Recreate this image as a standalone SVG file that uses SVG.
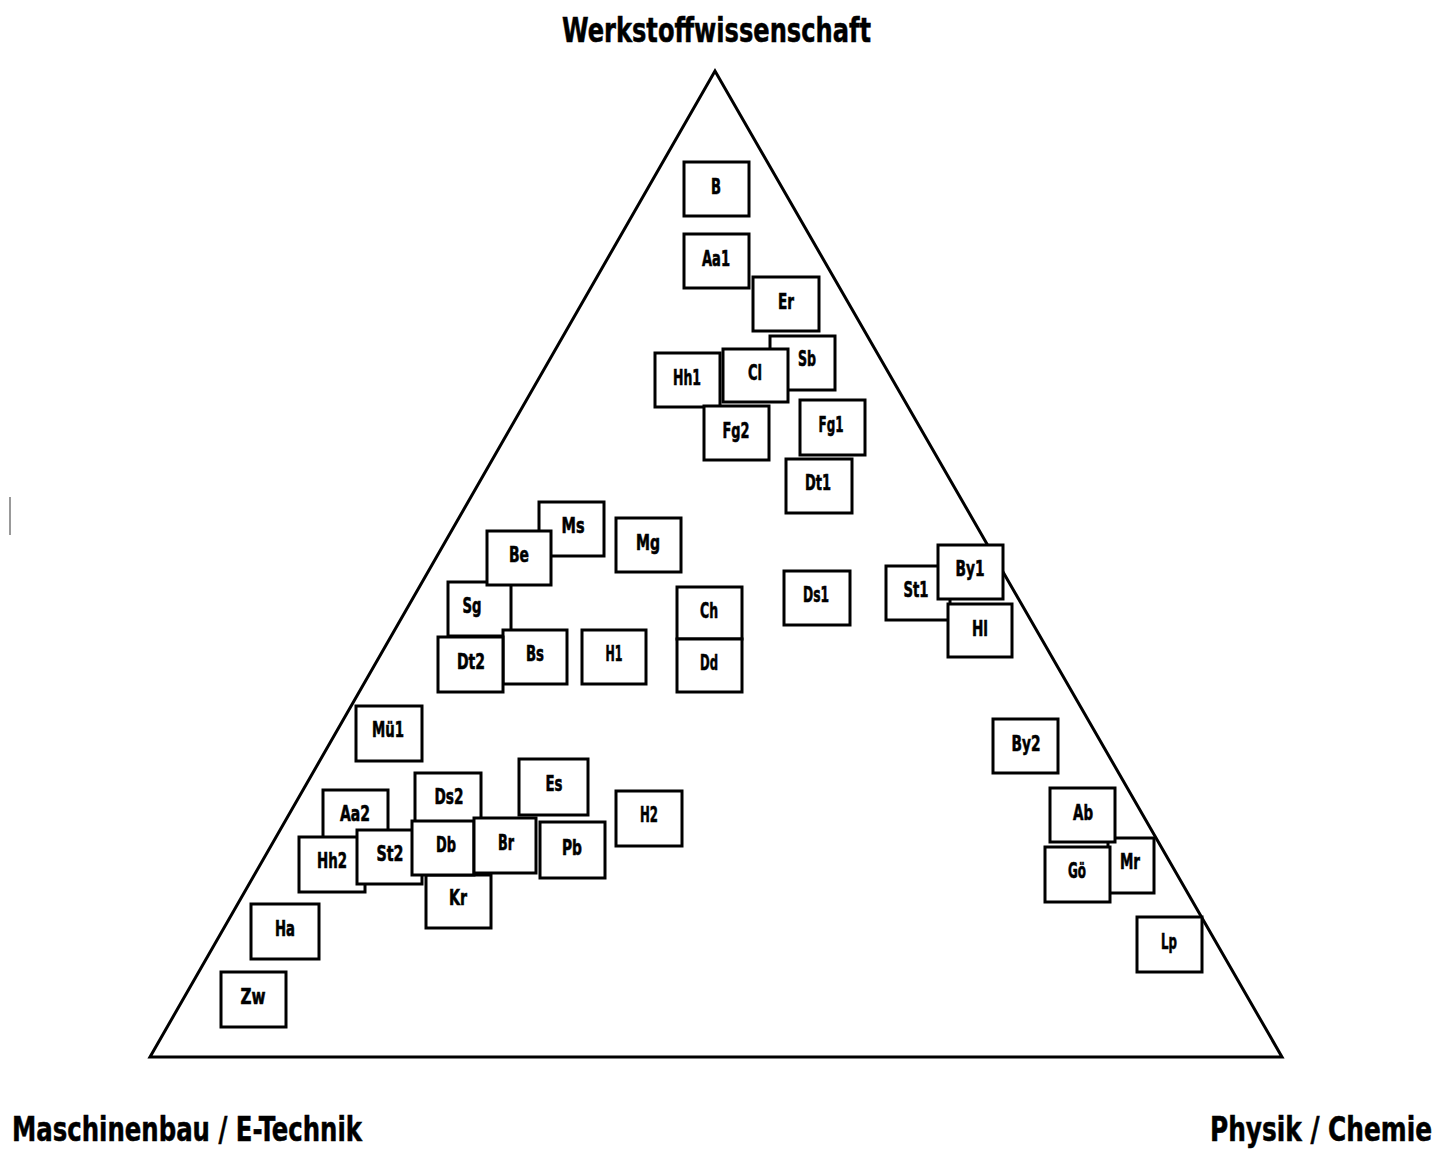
<svg xmlns="http://www.w3.org/2000/svg" width="1448" height="1152" viewBox="0 0 1448 1152">
<style>
.bx rect{fill:#fff;stroke:#000;stroke-width:3}
.bx text{font-family:"Liberation Sans Narrow","DejaVu Sans Condensed","Liberation Sans",sans-serif;font-weight:bold;font-size:22px;text-anchor:middle;fill:#000;stroke:#000;stroke-width:0.6}
.ttl{font-family:"Liberation Sans Narrow","DejaVu Sans Condensed","Liberation Sans",sans-serif;font-weight:bold;font-size:34px;fill:#000;stroke:#000;stroke-width:0.5}
</style>
<rect width="1448" height="1152" fill="#fff"/>
<line x1="10" y1="497" x2="10" y2="535" stroke="#555" stroke-width="1.2"/>
<g id="connectors">
<polygon points="715,71 150,1057 1282,1057" fill="none" stroke="#000" stroke-width="3" stroke-linejoin="miter"/>
</g>
<text class="ttl" x="562" y="42" textLength="309" lengthAdjust="spacingAndGlyphs">Werkstoffwissenschaft</text>
<text class="ttl" x="12" y="1141" textLength="350" lengthAdjust="spacingAndGlyphs">Maschinenbau / E-Technik</text>
<text class="ttl" x="1432" y="1141" text-anchor="end" textLength="222" lengthAdjust="spacingAndGlyphs">Physik / Chemie</text>
<g class="bx">
<g id="n-B"><rect x="684" y="162" width="65" height="54"/><text x="716" y="194" textLength="10" lengthAdjust="spacingAndGlyphs">B</text></g>
<g id="n-Aa1"><rect x="684" y="234" width="65" height="54"/><text x="716" y="266" textLength="28" lengthAdjust="spacingAndGlyphs">Aa1</text></g>
<g id="n-Er"><rect x="753" y="277" width="66" height="54"/><text x="786" y="309" textLength="16" lengthAdjust="spacingAndGlyphs">Er</text></g>
<g id="n-Sb"><rect x="770" y="336" width="65" height="54"/><text x="807" y="366" textLength="18" lengthAdjust="spacingAndGlyphs">Sb</text></g>
<g id="n-Hh1"><rect x="655" y="353" width="65" height="54"/><text x="687" y="385" textLength="28" lengthAdjust="spacingAndGlyphs">Hh1</text></g>
<g id="n-Cl"><rect x="723" y="349" width="65" height="53"/><text x="755" y="380" textLength="14" lengthAdjust="spacingAndGlyphs">Cl</text></g>
<g id="n-Fg2"><rect x="704" y="406" width="65" height="54"/><text x="736" y="438" textLength="27" lengthAdjust="spacingAndGlyphs">Fg2</text></g>
<g id="n-Fg1"><rect x="800" y="400" width="65" height="55"/><text x="831" y="432" textLength="25" lengthAdjust="spacingAndGlyphs">Fg1</text></g>
<g id="n-Dt1"><rect x="786" y="459" width="66" height="54"/><text x="818" y="490" textLength="26" lengthAdjust="spacingAndGlyphs">Dt1</text></g>
<g id="n-Ms"><rect x="539" y="502" width="65" height="54"/><text x="573" y="533" textLength="23" lengthAdjust="spacingAndGlyphs">Ms</text></g>
<g id="n-Mg"><rect x="616" y="518" width="65" height="54"/><text x="648" y="550" textLength="24" lengthAdjust="spacingAndGlyphs">Mg</text></g>
<g id="n-Sg"><rect x="448" y="582" width="63" height="54"/><text x="472" y="613" textLength="19" lengthAdjust="spacingAndGlyphs">Sg</text></g>
<g id="n-Be"><rect x="487" y="531" width="64" height="54"/><text x="519" y="562" textLength="20" lengthAdjust="spacingAndGlyphs">Be</text></g>
<g id="n-Bs"><rect x="503" y="630" width="64" height="54"/><text x="535" y="661" textLength="18" lengthAdjust="spacingAndGlyphs">Bs</text></g>
<g id="n-Dt2"><rect x="438" y="637" width="65" height="55"/><text x="471" y="669" textLength="28" lengthAdjust="spacingAndGlyphs">Dt2</text></g>
<g id="n-H1"><rect x="582" y="630" width="64" height="54"/><text x="614" y="661" textLength="17" lengthAdjust="spacingAndGlyphs">H1</text></g>
<g id="n-Ch"><rect x="677" y="587" width="65" height="52"/><text x="709" y="618" textLength="18" lengthAdjust="spacingAndGlyphs">Ch</text></g>
<g id="n-Dd"><rect x="677" y="639" width="65" height="53"/><text x="709" y="670" textLength="18" lengthAdjust="spacingAndGlyphs">Dd</text></g>
<g id="n-Ds1"><rect x="784" y="571" width="66" height="54"/><text x="816" y="602" textLength="26" lengthAdjust="spacingAndGlyphs">Ds1</text></g>
<g id="n-St1"><rect x="886" y="566" width="64" height="54"/><text x="916" y="597" textLength="25" lengthAdjust="spacingAndGlyphs">St1</text></g>
<g id="n-Hl"><rect x="948" y="604" width="64" height="53"/><text x="980" y="636" textLength="16" lengthAdjust="spacingAndGlyphs">Hl</text></g>
<g id="n-By1"><rect x="938" y="545" width="65" height="54"/><text x="970" y="576" textLength="29" lengthAdjust="spacingAndGlyphs">By1</text></g>
<g id="n-Mue1"><rect x="356" y="706" width="66" height="55"/><text x="388" y="737" textLength="32" lengthAdjust="spacingAndGlyphs">Mü1</text></g>
<g id="n-Es"><rect x="519" y="759" width="69" height="56"/><text x="554" y="791" textLength="17" lengthAdjust="spacingAndGlyphs">Es</text></g>
<g id="n-Ds2"><rect x="415" y="773" width="66" height="54"/><text x="449" y="804" textLength="29" lengthAdjust="spacingAndGlyphs">Ds2</text></g>
<g id="n-Aa2"><rect x="323" y="790" width="65" height="54"/><text x="355" y="821" textLength="30" lengthAdjust="spacingAndGlyphs">Aa2</text></g>
<g id="n-H2"><rect x="616" y="791" width="66" height="55"/><text x="649" y="822" textLength="18" lengthAdjust="spacingAndGlyphs">H2</text></g>
<g id="n-Hh2"><rect x="299" y="837" width="66" height="55"/><text x="332" y="868" textLength="30" lengthAdjust="spacingAndGlyphs">Hh2</text></g>
<g id="n-St2"><rect x="357" y="830" width="65" height="54"/><text x="390" y="861" textLength="27" lengthAdjust="spacingAndGlyphs">St2</text></g>
<g id="n-Kr"><rect x="426" y="875" width="65" height="53"/><text x="458" y="905" textLength="18" lengthAdjust="spacingAndGlyphs">Kr</text></g>
<g id="n-Db"><rect x="412" y="821" width="62" height="54"/><text x="446" y="852" textLength="20" lengthAdjust="spacingAndGlyphs">Db</text></g>
<g id="n-Br"><rect x="474" y="818" width="62" height="55"/><text x="506" y="850" textLength="16" lengthAdjust="spacingAndGlyphs">Br</text></g>
<g id="n-Pb"><rect x="540" y="822" width="65" height="56"/><text x="572" y="855" textLength="20" lengthAdjust="spacingAndGlyphs">Pb</text></g>
<g id="n-Ha"><rect x="251" y="904" width="68" height="55"/><text x="285" y="936" textLength="20" lengthAdjust="spacingAndGlyphs">Ha</text></g>
<g id="n-Zw"><rect x="221" y="972" width="65" height="55"/><text x="253" y="1004" textLength="25" lengthAdjust="spacingAndGlyphs">Zw</text></g>
<g id="n-By2"><rect x="993" y="719" width="65" height="54"/><text x="1026" y="751" textLength="29" lengthAdjust="spacingAndGlyphs">By2</text></g>
<g id="n-Mr"><rect x="1108" y="838" width="46" height="55"/><text x="1130" y="869" textLength="20" lengthAdjust="spacingAndGlyphs">Mr</text></g>
<g id="n-Ab"><rect x="1050" y="788" width="65" height="54"/><text x="1083" y="820" textLength="20" lengthAdjust="spacingAndGlyphs">Ab</text></g>
<g id="n-Goe"><rect x="1045" y="847" width="65" height="55"/><text x="1077" y="878" textLength="18" lengthAdjust="spacingAndGlyphs">Gö</text></g>
<g id="n-Lp"><rect x="1137" y="917" width="65" height="55"/><text x="1169" y="949" textLength="16" lengthAdjust="spacingAndGlyphs">Lp</text></g>
</g>
</svg>
